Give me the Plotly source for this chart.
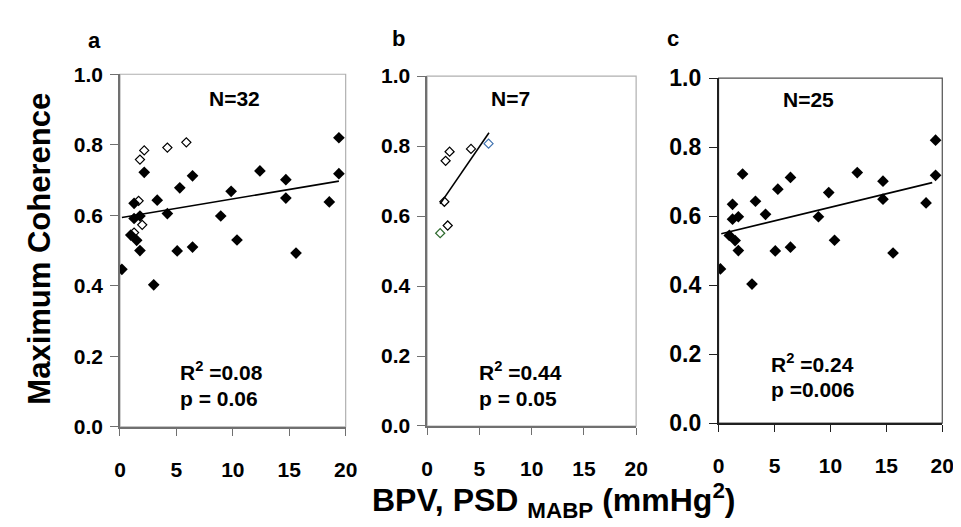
import plotly.graph_objects as go

W, H = 961, 527
FONT = 'Liberation Sans, Arial, sans-serif'

# filled diamonds (panel a and c)
bpv_filled = [0.17, 2.15, 1.25, 1.25, 1.77, 0.96, 1.48, 1.77, 2.99, 3.3, 4.2, 5.3, 5.07,
              6.43, 6.43, 8.93, 9.85, 10.37, 12.4, 14.7, 14.7, 15.6, 18.55, 19.4, 19.4]
coh_filled = [0.447, 0.722, 0.634, 0.591, 0.598, 0.544, 0.529, 0.500, 0.403, 0.643, 0.605, 0.678, 0.499,
              0.712, 0.510, 0.598, 0.668, 0.530, 0.726, 0.701, 0.649, 0.493, 0.638, 0.820, 0.718]

# open diamonds (panel a and b)
bpv_open = [2.15, 1.77, 4.2, 5.88, 1.65, 1.97, 1.25]
coh_open = [0.784, 0.758, 0.792, 0.807, 0.641, 0.573, 0.551]
open_colors = ['black', 'black', 'black', '#3f72b0', 'black', 'black', '#2f6b2f']

# regression lines
trend_a_x = [0.17, 19.4]
trend_a_y = [0.594, 0.697]
trend_b_x = [1.25, 5.92]
trend_b_y = [0.635, 0.838]
trend_c_x = [0.24, 19.1]
trend_c_y = [0.549, 0.697]

x_ticks = [0, 5, 10, 15, 20]
y_ticks = [0, 0.2, 0.4, 0.6, 0.8, 1.0]


def px(x):
    return x / W


def py(y):
    return 1 - y / H


BOLD = dict(family=FONT, color='black', weight='bold')

fig = go.Figure()

filled = dict(mode='markers', marker=dict(symbol='diamond', size=9, color='black'), showlegend=False)
opened = dict(mode='markers', showlegend=False,
              marker=dict(symbol='diamond-open', size=7, color=open_colors, line=dict(width=1.2)))
line = dict(mode='lines', line=dict(color='black', width=1.6), showlegend=False)

fig.add_trace(go.Scatter(x=bpv_filled, y=coh_filled, xaxis='x', yaxis='y', **filled))
fig.add_trace(go.Scatter(x=bpv_open, y=coh_open, xaxis='x', yaxis='y',
                         mode='markers', showlegend=False,
                         marker=dict(symbol='diamond-open', size=7, color='black', line=dict(width=1.2))))
fig.add_trace(go.Scatter(x=trend_a_x, y=trend_a_y, xaxis='x', yaxis='y', **line))

fig.add_trace(go.Scatter(x=bpv_open, y=coh_open, xaxis='x2', yaxis='y2', **opened))
fig.add_trace(go.Scatter(x=trend_b_x, y=trend_b_y, xaxis='x2', yaxis='y2', **line))

fig.add_trace(go.Scatter(x=bpv_filled, y=coh_filled, xaxis='x3', yaxis='y3', **filled))
fig.add_trace(go.Scatter(x=trend_c_x, y=trend_c_y, xaxis='x3', yaxis='y3', **line))

panels = [
    # (suffix, left, right, top, bottom, axis colour, box colour, ytick size)
    ('', 108, 338, 56, 427, '#707070', '#b0b0b0', 21),
    ('2', 421, 634, 58, 426, '#707070', '#b0b0b0', 21),
    ('3', 718, 946, 60, 423, '#202020', '#505050', 23),
]

layout = {}
shapes = []
for s, l, r, t, b, acol, bcol, ysz in panels:
    layout['xaxis' + s] = dict(domain=[px(l), px(r)], anchor='y' + s, range=[0, 20],
                               tickvals=x_ticks, ticks='outside', ticklen=7, tickcolor=acol,
                               showline=True, linecolor=acol, linewidth=1.5, showgrid=False,
                               zeroline=False, ticklabelstandoff=16,
                               tickfont=dict(size=21, **BOLD))
    layout['yaxis' + s] = dict(domain=[py(b), py(t)], anchor='x' + s, range=[0, 1],
                               tickvals=y_ticks, tickformat='.1f', ticks='outside', ticklen=8,
                               tickcolor=acol, showline=True, linecolor=acol, linewidth=1.5,
                               showgrid=False, zeroline=False, ticklabelstandoff=3,
                               tickfont=dict(size=ysz, **BOLD))
    shapes.append(dict(type='rect', xref='x' + s + ' domain', yref='y' + s + ' domain',
                       x0=0, x1=1, y0=0, y1=1, line=dict(color=bcol, width=1.2), layer='below'))

annotations = []


def note(text, x, y, size, xanchor='center', **kw):
    annotations.append(dict(text=text, x=px(x), y=py(y), xref='paper', yref='paper',
                            showarrow=False, xanchor=xanchor, yanchor='middle',
                            font=dict(size=size, **BOLD), **kw))


note('a', 82, 20, 22)
note('b', 392, 18, 22)
note('c', 672, 18, 22)

note('N=32', 225, 82, 21)
note('N=7', 506, 82, 21)
note('N=25', 810, 83, 21)

note('R<sup>2</sup> =0.08', 167, 368, 21, xanchor='left')
note('p = 0.06', 167, 397, 21, xanchor='left')
note('R<sup>2</sup> =0.44', 472, 368, 21, xanchor='left')
note('p = 0.05', 472, 397, 21, xanchor='left')
note('R<sup>2</sup> =0.24', 769, 360, 21, xanchor='left')
note('p =0.006', 769, 388, 21, xanchor='left')

note('Maximum Coherence', 26, 240, 31, textangle=-90)
note('BPV, PSD <sub>MABP</sub> (mmHg<sup>2</sup>)', 550, 504, 32)

fig.update_layout(width=W, height=H, margin=dict(l=0, r=0, t=0, b=0),
                  paper_bgcolor='white', plot_bgcolor='white',
                  shapes=shapes, annotations=annotations, **layout)

fig.write_html("out.html")
